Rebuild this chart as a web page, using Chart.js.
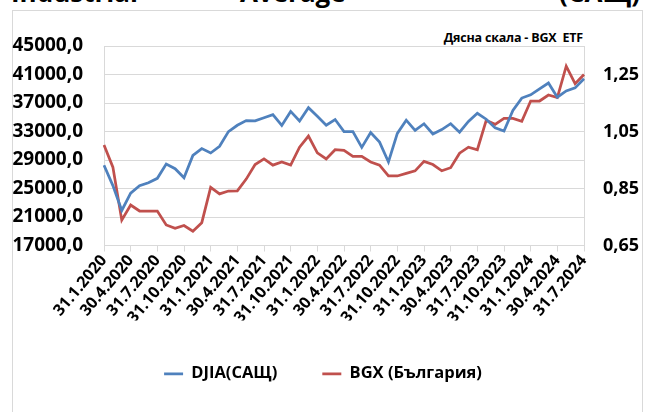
<!DOCTYPE html>
<html>
<head>
<meta charset="utf-8">
<script src="https://cdn.jsdelivr.net/npm/chart.js@4.4.1/dist/chart.umd.min.js"></script>
<style>
  html, body { margin: 0; padding: 0; background: #ffffff; overflow: hidden; }
  body { width: 646px; height: 412px; position: relative; font-family: "Open Sans", sans-serif; }
  #frame { position: absolute; left: 12px; top: 10px; width: 631px; height: 430px; border: 1px solid #d9d9d9; box-sizing: border-box; }
  .ttl { position: absolute; top: -21px; font-size: 26px; line-height: 26px; font-weight: 700; color: #000; white-space: nowrap; }
  #note { position: absolute; right: 63px; top: 29px; font-size: 12.5px; line-height: 17px; font-weight: 700; color: #000; white-space: pre; letter-spacing: -0.2px; }
  #c { position: absolute; left: 0; top: 0; }
</style>
</head>
<body>
<div id="frame"></div>
<span class="ttl" style="left:11px">Industrial</span>
<span class="ttl" style="left:240px">Average</span>
<span class="ttl" style="left:559px">(САЩ)</span>
<div id="note">Дясна скала - BGX  ETF</div>
<canvas id="c" width="646" height="412"></canvas>
<script>
// Month-end dates (categories)
const dates = [
  '31.1.2020','29.2.2020','31.3.2020','30.4.2020','31.5.2020','30.6.2020','31.7.2020','31.8.2020','30.9.2020','31.10.2020','30.11.2020','31.12.2020',
  '31.1.2021','28.2.2021','31.3.2021','30.4.2021','31.5.2021','30.6.2021','31.7.2021','31.8.2021','30.9.2021','31.10.2021','30.11.2021','31.12.2021',
  '31.1.2022','28.2.2022','31.3.2022','30.4.2022','31.5.2022','30.6.2022','31.7.2022','31.8.2022','30.9.2022','31.10.2022','30.11.2022','31.12.2022',
  '31.1.2023','28.2.2023','31.3.2023','30.4.2023','31.5.2023','30.6.2023','31.7.2023','31.8.2023','30.9.2023','31.10.2023','30.11.2023','31.12.2023',
  '31.1.2024','29.2.2024','31.3.2024','30.4.2024','31.5.2024','30.6.2024','31.7.2024'
];
// DJIA (left scale)
const djia = [
  28256, 25409, 21917, 24346, 25383, 25813, 26428, 28430, 27782, 26502, 29638, 30606,
  29983, 30932, 32982, 33875, 34529, 34503, 34935, 35361, 33844, 35820, 34484, 36338,
  35132, 33893, 34678, 32977, 32990, 30775, 32845, 31510, 28726, 32733, 34590, 33147,
  34086, 32657, 33274, 34098, 32908, 34408, 35560, 34722, 33508, 33053, 35951, 37690,
  38150, 38996, 39807, 37816, 38686, 39119, 40400
];
// BGX ETF (right scale)
const bgx = [
  1.003, 0.925, 0.739, 0.792, 0.771, 0.771, 0.771, 0.722, 0.710, 0.720, 0.700, 0.730,
  0.854, 0.831, 0.841, 0.842, 0.883, 0.934, 0.954, 0.932, 0.943, 0.932, 0.995, 1.034,
  0.975, 0.954, 0.986, 0.984, 0.963, 0.963, 0.943, 0.932, 0.894, 0.894, 0.903, 0.912,
  0.945, 0.934, 0.912, 0.923, 0.974, 0.995, 0.986, 1.089, 1.075, 1.096, 1.096, 1.086,
  1.157, 1.157, 1.178, 1.169, 1.279, 1.218, 1.250
];
// Tick values
const leftTicks = [17000, 21000, 25000, 29000, 33000, 37000, 41000, 45000];
const rightTicks = [0.65, 0.85, 1.05, 1.25];
const seriesNames = ['DJIA(САЩ)', 'BGX (България)'];
const labelEvery = 3;

const FONT = '"Open Sans", sans-serif';
const GRID = '#d9d9d9';

new Chart(document.getElementById('c'), {
  type: 'line',
  data: {
    labels: dates,
    datasets: [
      { label: seriesNames[0], data: djia, yAxisID: 'y', borderColor: '#4f81bd', backgroundColor: '#4f81bd',
        borderWidth: 2.75, pointRadius: 0, tension: 0 },
      { label: seriesNames[1], data: bgx, yAxisID: 'y1', borderColor: '#c0504d', backgroundColor: '#c0504d',
        borderWidth: 2.75, pointRadius: 0, tension: 0 }
    ]
  },
  options: {
    responsive: false,
    animation: false,
    devicePixelRatio: 1,
    layout: { padding: { top: 46, bottom: 20, left: 0, right: 0 } },
    plugins: {
      legend: {
        position: 'bottom',
        maxHeight: 95,
        labels: { boxWidth: 19, boxHeight: 0, padding: 45, color: '#000',
                  font: { family: FONT, size: 16.5, weight: 'bold' } }
      },
      tooltip: { enabled: false }
    },
    scales: {
      x: {
        offset: false,
        grid: { drawOnChartArea: false, drawTicks: true, tickLength: 6,
                color: c => (c.index % labelEvery === 0 ? GRID : 'rgba(0,0,0,0)') },
        border: { display: true, color: GRID },
        ticks: {
          autoSkip: false, minRotation: 50, maxRotation: 50, padding: 0, color: '#000',
          font: { family: FONT, size: 16, weight: 'bold' },
          callback: (v, i) => (i % labelEvery === 0 ? dates[i] : '')
        },
        afterFit: s => { s.height = 75; }
      },
      y: {
        position: 'left',
        min: 17000, max: 45000,
        afterBuildTicks: s => { s.ticks = leftTicks.map(v => ({ value: v })); },
        grid: { color: GRID, drawTicks: false },
        border: { display: true, color: GRID },
        ticks: { padding: 21, color: '#000', font: { family: FONT, size: 19, weight: 'bold' },
                 callback: v => v.toFixed(1).replace('.', ',') },
        afterFit: s => { s.width = 104; }
      },
      y1: {
        position: 'right',
        min: 0.65, max: 1.35,
        afterBuildTicks: s => { s.ticks = rightTicks.map(v => ({ value: v })); },
        grid: { drawOnChartArea: false, drawTicks: false },
        border: { display: true, color: GRID },
        ticks: { padding: 19, color: '#000', font: { family: FONT, size: 18, weight: 'bold' },
                 callback: v => v.toFixed(2).replace('.', ',') },
        afterFit: s => { s.width = 62; }
      }
    }
  }
});
</script>
</body>
</html>
